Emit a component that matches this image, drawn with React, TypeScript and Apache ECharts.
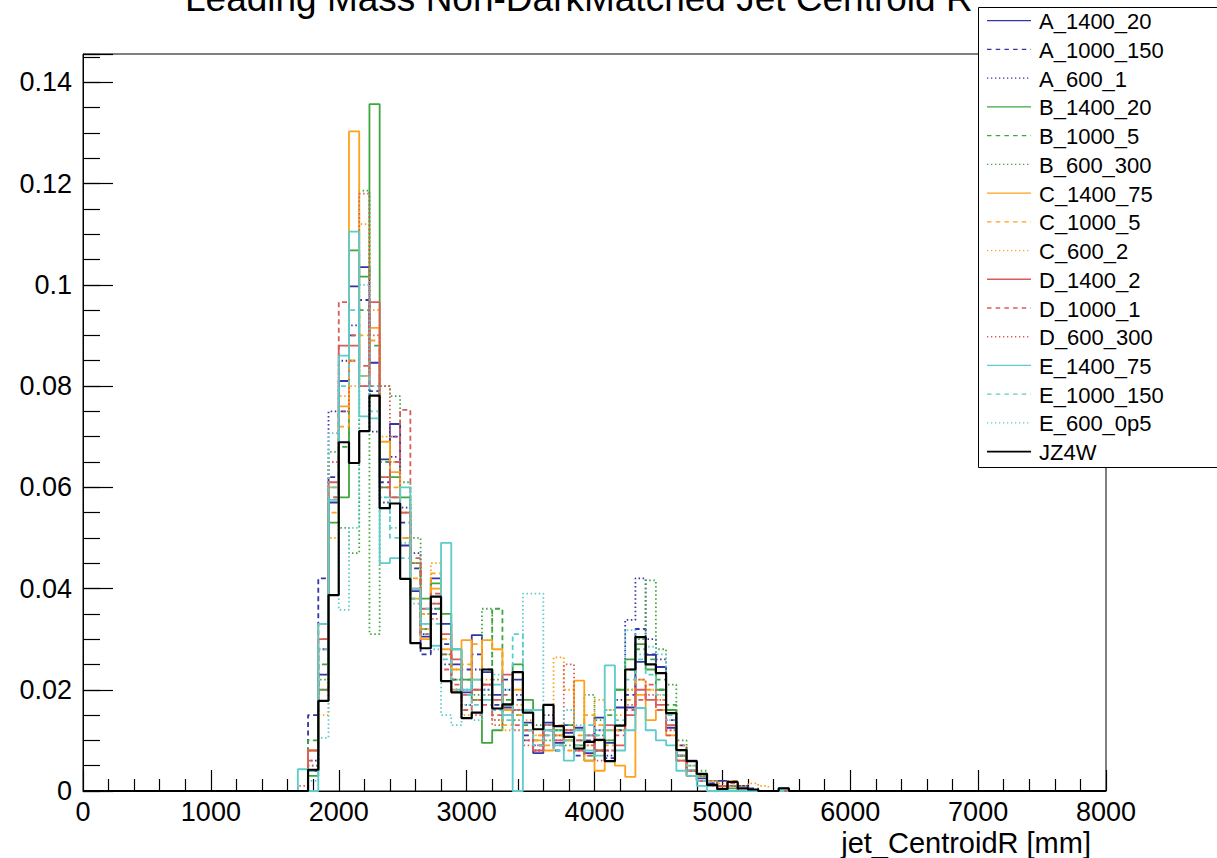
import React, { useEffect, useRef } from "react";
import * as echarts from "echarts";

// Histogram binning: 100 bins of 80 mm from 0 to 8000 mm.
// The value arrays below hold bins starting at 1680 mm (bin index 21) up to 5440 mm (bin index 68).
const BIN_WIDTH = 80;
const N_BINS = 100;
const FIRST_BIN = 21;

const seriesNames = [
  "A_1400_20", "A_1000_150", "A_600_1",
  "B_1400_20", "B_1000_5", "B_600_300",
  "C_1400_75", "C_1000_5", "C_600_2",
  "D_1400_2", "D_1000_1", "D_600_300",
  "E_1400_75", "E_1000_150", "E_600_0p5",
  "JZ4W",
];

const A_1400_20 = [
  0, 0.004, 0.023, 0.057, 0.081, 0.0997, 0.1035, 0.0846,
  0.0655, 0.0725, 0.0485, 0.0395, 0.0305, 0.042, 0.033, 0.025,
  0.0195, 0.0308, 0.0235, 0.019, 0.0165, 0.022, 0.0135, 0.0075,
  0.0135, 0.0095, 0.0115, 0.0125, 0.0075, 0.0145, 0.0095, 0.0165,
  0.0165, 0.0255, 0.0269, 0.0245, 0.0125, 0.007, 0.006, 0.0025,
  0.001, 0.002, 0, 0.001, 0, 0, 0, 0,
];
const A_1000_150 = [
  0, 0.015, 0.042, 0.062, 0.075, 0.09, 0.097, 0.079,
  0.061, 0.07, 0.053, 0.044, 0.027, 0.035, 0.029, 0.022,
  0.024, 0.027, 0.021, 0.017, 0.022, 0.018, 0.011, 0.009,
  0.012, 0.008, 0.013, 0.007, 0.01, 0.008, 0.0065, 0.012,
  0.019, 0.032, 0.027, 0.02, 0.014, 0.009, 0.004, 0.003,
  0.0015, 0, 0.001, 0, 0.0005, 0, 0, 0,
];
const A_600_1 = [
  0, 0.006, 0.028, 0.075, 0.085, 0.092, 0.08, 0.071,
  0.057, 0.066, 0.056, 0.047, 0.031, 0.036, 0.025, 0.02,
  0.017, 0.024, 0.02, 0.014, 0.02, 0.019, 0.01, 0.008,
  0.015, 0.01, 0.012, 0.008, 0.011, 0.012, 0.007, 0.018,
  0.0338, 0.042, 0.03, 0.026, 0.016, 0.008, 0.003, 0.002,
  0.0015, 0.001, 0, 0, 0, 0, 0, 0,
];
const B_1400_20 = [
  0, 0.003, 0.02, 0.053, 0.058, 0.1068, 0.1016, 0.1357,
  0.06, 0.062, 0.058, 0.045, 0.038, 0.041, 0.035, 0.028,
  0.022, 0.018, 0.0095, 0.012, 0.017, 0.025, 0.018, 0.016,
  0.013, 0.012, 0.01, 0.009, 0.006, 0.008, 0.01, 0.02,
  0.026, 0.029, 0.024, 0.02, 0.016, 0.007, 0.004, 0.003,
  0.001, 0, 0.0005, 0, 0, 0, 0, 0,
];
const B_1000_5 = [
  0, 0.01, 0.025, 0.058, 0.068, 0.085, 0.095, 0.088,
  0.065, 0.058, 0.05, 0.038, 0.032, 0.036, 0.027, 0.022,
  0.022, 0.02, 0.024, 0.036, 0.018, 0.015, 0.013, 0.01,
  0.012, 0.011, 0.013, 0.01, 0.007, 0.011, 0.015, 0.02,
  0.024, 0.028, 0.026, 0.022, 0.017, 0.008, 0.004, 0.002,
  0.001, 0.001, 0, 0, 0, 0, 0, 0,
];
const B_600_300 = [
  0, 0.005, 0.022, 0.067, 0.052, 0.047, 0.1186, 0.031,
  0.08, 0.078, 0.061, 0.05, 0.035, 0.037, 0.027, 0.022,
  0.02, 0.019, 0.036, 0.022, 0.015, 0.014, 0.012, 0.013,
  0.01, 0.012, 0.009, 0.012, 0.019, 0.014, 0.01, 0.012,
  0.02, 0.03, 0.0416, 0.028, 0.021, 0.01, 0.005, 0.004,
  0.002, 0.001, 0.001, 0, 0, 0, 0, 0,
];
const C_1400_75 = [
  0, 0.008, 0.033, 0.06, 0.076, 0.1303, 0.082, 0.0915,
  0.069, 0.063, 0.055, 0.038, 0.03, 0.04, 0.028, 0.024,
  0.0298, 0.022, 0.0298, 0.028, 0.016, 0.02, 0.012, 0.01,
  0.008, 0.011, 0.01, 0.0218, 0.006, 0.004, 0.012, 0.005,
  0.0028, 0.019, 0.014, 0.016, 0.011, 0.006, 0.003, 0.002,
  0.001, 0.0005, 0, 0, 0, 0, 0, 0,
];
const C_1000_5 = [
  0, 0.008, 0.03, 0.055, 0.072, 0.085, 0.09, 0.089,
  0.062, 0.06, 0.05, 0.042, 0.035, 0.043, 0.03, 0.02,
  0.025, 0.029, 0.021, 0.018, 0.013, 0.015, 0.016, 0.011,
  0.009, 0.013, 0.008, 0.011, 0.015, 0.013, 0.009, 0.012,
  0.018, 0.022, 0.02, 0.018, 0.013, 0.008, 0.003, 0.002,
  0.001, 0.001, 0.002, 0, 0, 0, 0, 0,
];
const C_600_2 = [
  0, 0.004, 0.015, 0.05, 0.078, 0.08, 0.112, 0.095,
  0.07, 0.065, 0.05, 0.045, 0.032, 0.045, 0.03, 0.024,
  0.015, 0.018, 0.022, 0.014, 0.012, 0.017, 0.014, 0.011,
  0.012, 0.0264, 0.02, 0.012, 0.009, 0.018, 0.016, 0.015,
  0.02, 0.022, 0.02, 0.019, 0.012, 0.009, 0.005, 0.003,
  0.002, 0.0015, 0.001, 0.001, 0.0015, 0.001, 0, 0,
];
const D_1400_2 = [
  0, 0.008, 0.03, 0.061, 0.088, 0.088, 0.08, 0.0966,
  0.062, 0.058, 0.055, 0.04, 0.036, 0.037, 0.031, 0.026,
  0.019, 0.02, 0.021, 0.018, 0.023, 0.016, 0.012, 0.008,
  0.013, 0.01, 0.012, 0.008, 0.011, 0.008, 0.013, 0.009,
  0.015, 0.02, 0.018, 0.017, 0.013, 0.006, 0.004, 0.002,
  0.001, 0.001, 0, 0, 0, 0, 0, 0,
];
const D_1000_1 = [
  0, 0.006, 0.028, 0.058, 0.0966, 0.09, 0.084, 0.08,
  0.06, 0.065, 0.0753, 0.046, 0.031, 0.039, 0.024, 0.021,
  0.016, 0.018, 0.017, 0.015, 0.019, 0.013, 0.01, 0.009,
  0.011, 0.009, 0.012, 0.01, 0.007, 0.01, 0.008, 0.011,
  0.016, 0.018, 0.021, 0.016, 0.011, 0.006, 0.003, 0.002,
  0.001, 0, 0.0015, 0, 0, 0, 0, 0,
];
const D_600_300 = [
  0.001, 0.005, 0.02, 0.065, 0.075, 0.085, 0.118, 0.09,
  0.08, 0.07, 0.055, 0.045, 0.033, 0.034, 0.027, 0.02,
  0.017, 0.015, 0.019, 0.013, 0.015, 0.012, 0.009, 0.008,
  0.012, 0.011, 0.025, 0.01, 0.009, 0.006, 0.008, 0.013,
  0.017, 0.022, 0.019, 0.018, 0.012, 0.007, 0.004, 0.002,
  0.002, 0.001, 0.001, 0, 0, 0, 0, 0,
];
const E_1400_75 = [
  0.0043, 0, 0.033, 0.0575, 0.086, 0.1105, 0.074, 0.0736,
  0.045, 0.046, 0.06, 0.04, 0.033, 0.0287, 0.049, 0.028,
  0.02, 0.022, 0.018, 0.021, 0.015, 0, 0.016, 0.016,
  0.012, 0.009, 0.006, 0.012, 0.008, 0.007, 0.0248, 0.008,
  0.012, 0.0164, 0.012, 0.01, 0.009, 0.004, 0.003, 0.001,
  0, 0, 0, 0, 0, 0, 0, 0.0006,
];
const E_1000_150 = [
  0, 0.004, 0.028, 0.06, 0.08, 0.095, 0.082, 0.075,
  0.058, 0.05, 0.046, 0.038, 0.036, 0.033, 0.026, 0.02,
  0.019, 0.017, 0.019, 0.016, 0.014, 0.031, 0.012, 0.009,
  0.011, 0.008, 0.01, 0.009, 0.013, 0.011, 0.012, 0.014,
  0.022, 0.026, 0.023, 0.019, 0.015, 0.008, 0.005, 0.002,
  0.001, 0, 0, 0, 0, 0, 0, 0,
];
const E_600_0p5 = [
  0, 0.002, 0.0105, 0.0707, 0.0358, 0.052, 0.1, 0.08,
  0.058, 0.052, 0.049, 0.037, 0.031, 0.028, 0.015, 0.013,
  0.017, 0.014, 0.02, 0.023, 0.02, 0.016, 0.039, 0.039,
  0.013, 0.012, 0.016, 0.013, 0.011, 0.012, 0.016, 0.013,
  0.0318, 0.027, 0.0285, 0.027, 0.014, 0.007, 0.004, 0.002,
  0.001, 0.0005, 0, 0, 0, 0, 0, 0,
];
const JZ4W = [
  0, 0.0042, 0.0178, 0.0387, 0.0689, 0.0648, 0.0711, 0.0781,
  0.0559, 0.0568, 0.0419, 0.0292, 0.0282, 0.0384, 0.0217, 0.0195,
  0.0144, 0.0155, 0.024, 0.0163, 0.0171, 0.0235, 0.0155, 0.0122,
  0.017, 0.0128, 0.0107, 0.0084, 0.0097, 0.0101, 0.0059, 0.0129,
  0.024, 0.0304, 0.025, 0.0233, 0.0154, 0.0081, 0.0059, 0.0034,
  0.0012, 0.0004, 0.0018, 0.0005, 0.0003, 0, 0, 0.0005,
];

const seriesValues = [
  A_1400_20, A_1000_150, A_600_1,
  B_1400_20, B_1000_5, B_600_300,
  C_1400_75, C_1000_5, C_600_2,
  D_1400_2, D_1000_1, D_600_300,
  E_1400_75, E_1000_150, E_600_0p5,
  JZ4W,
];

const xTitle = "jet_CentroidR [mm]";
const chartTitle = "Leading Mass Non-DarkMatched Jet Centroid R";

// styles
const FONT = "'Liberation Sans', Arial, Helvetica, sans-serif";
const familyColors: Record<string, string> = {
  A: "#3535a6",
  B: "#3fa63f",
  C: "#ffa21a",
  D: "#d95c5c",
  E: "#5ccccc",
  J: "#000000",
};
const DASH = [5, 3.5];
const DOT = [1.5, 2.6];

function styleFor(name: string, idx: number) {
  if (name === "JZ4W") return { color: "#000000", dash: null as number[] | null, width: 2.2 };
  const color = familyColors[name[0]];
  const kind = idx % 3;
  return { color, dash: kind === 0 ? null : kind === 1 ? DASH : DOT, width: 1.8 };
}

function buildSteps(values: number[]): [number, number][] {
  const pts: [number, number][] = [];
  for (let k = 0; k < N_BINS; k++) {
    const j = k - FIRST_BIN;
    const v = j >= 0 && j < values.length ? values[j] : 0;
    pts.push([k * BIN_WIDTH, v]);
  }
  pts.push([N_BINS * BIN_WIDTH, 0]);
  return pts;
}

export default function App() {
  const ref = useRef<HTMLDivElement>(null);
  useEffect(() => {
    if (!ref.current) return;
    const chart = echarts.init(ref.current, undefined, { renderer: "svg" });

    const GL = 83, GT = 54, GR = 1106, GB = 791;
    const yMax = 0.1456;

    const series: any[] = seriesNames.map((name, i) => {
      const st = styleFor(name, i);
      return {
        name,
        type: "line",
        step: "end",
        showSymbol: false,
        symbol: "none",
        silent: true,
        z: name === "JZ4W" ? 5 : 2,
        data: buildSteps(seriesValues[i]),
        lineStyle: {
          color: st.color,
          width: st.width,
          type: st.dash ? st.dash : "solid",
          cap: "butt",
        },
      };
    });

    // legend as graphic
    const legendChildren: any[] = [
      {
        type: "rect",
        shape: { x: 978.5, y: 7.5, width: 260, height: 460 },
        style: { fill: "#ffffff", stroke: "#000000", lineWidth: 1 },
      },
    ];
    seriesNames.forEach((name, i) => {
      const st = styleFor(name, i);
      const cy = 20.7 + 28.73 * i;
      legendChildren.push({
        type: "line",
        shape: { x1: 987, y1: cy, x2: 1031, y2: cy },
        style: {
          stroke: st.color,
          lineWidth: name === "JZ4W" ? 1.6 : 1.3,
          lineDash: st.dash ? (st.dash === DOT ? [1.3, 2.7] : [4.5, 4.2]) : null,
        },
      });
      legendChildren.push({
        type: "text",
        x: 1039,
        y: cy + 1,
        style: {
          text: name,
          fill: "#000000",
          font: `22px ${FONT}`,
          align: "left",
          verticalAlign: "middle",
        },
      });
    });

    const option: any = {
      animation: false,
      backgroundColor: "#ffffff",
      grid: {
        left: GL,
        top: GT,
        right: 1217 - GR,
        bottom: 858 - GB,
        show: true,
        borderColor: "#000000",
        borderWidth: 1,
        backgroundColor: "transparent",
      },
      xAxis: {
        type: "value",
        min: 0,
        max: 8000,
        interval: 1000,
        axisLine: { show: true, onZero: false, lineStyle: { color: "#000", width: 1 } },
        axisTick: { show: true, inside: true, length: 21, lineStyle: { color: "#000", width: 1.2 } },
        minorTick: { show: true, splitNumber: 5, length: 12, lineStyle: { color: "#000", width: 1.2 } },
        axisLabel: {
          color: "#000",
          fontSize: 27,
          fontFamily: FONT,
          margin: 7,
          formatter: (v: number) => String(v),
        },
        splitLine: { show: false },
      },
      yAxis: [
        {
          type: "value",
          position: "left",
          min: 0,
          max: yMax,
          interval: 0.005,
          axisLine: { show: true, onZero: false, lineStyle: { color: "#000", width: 1 } },
          axisTick: { show: true, inside: true, length: 17, lineStyle: { color: "#000", width: 1.2 } },
          axisLabel: { show: false },
          splitLine: { show: false },
        },
        {
          type: "value",
          position: "left",
          min: 0,
          max: yMax,
          interval: 0.02,
          axisLine: { show: false },
          axisTick: { show: true, inside: true, length: 30, lineStyle: { color: "#000", width: 1.2 } },
          axisLabel: {
            color: "#000",
            fontSize: 27,
            fontFamily: FONT,
            margin: 11,
            formatter: (v: number) => {
              const r = Math.round(v / 0.02);
              if (Math.abs(v - r * 0.02) > 1e-9) return "";
              return String(parseFloat(v.toFixed(2)));
            },
          },
          splitLine: { show: false },
        },
      ],
      series,
      graphic: [
        {
          type: "text",
          x: 185,
          y: -2,
          z: 1,
          style: {
            text: chartTitle,
            fill: "#000000",
            font: `37px ${FONT}`,
            align: "left",
            verticalAlign: "middle",
          },
        },
        {
          type: "text",
          x: 1091,
          y: 843,
          style: {
            text: xTitle,
            fill: "#000000",
            font: `29px ${FONT}`,
            align: "right",
            verticalAlign: "middle",
          },
        },
        { type: "group", z: 10, children: legendChildren },
      ],
    };
    chart.setOption(option);
    return () => chart.dispose();
  }, []);

  return (
    <div
      ref={ref}
      style={{ position: "absolute", left: 0, top: 0, width: 1217, height: 858, background: "#fff" }}
    />
  );
}
